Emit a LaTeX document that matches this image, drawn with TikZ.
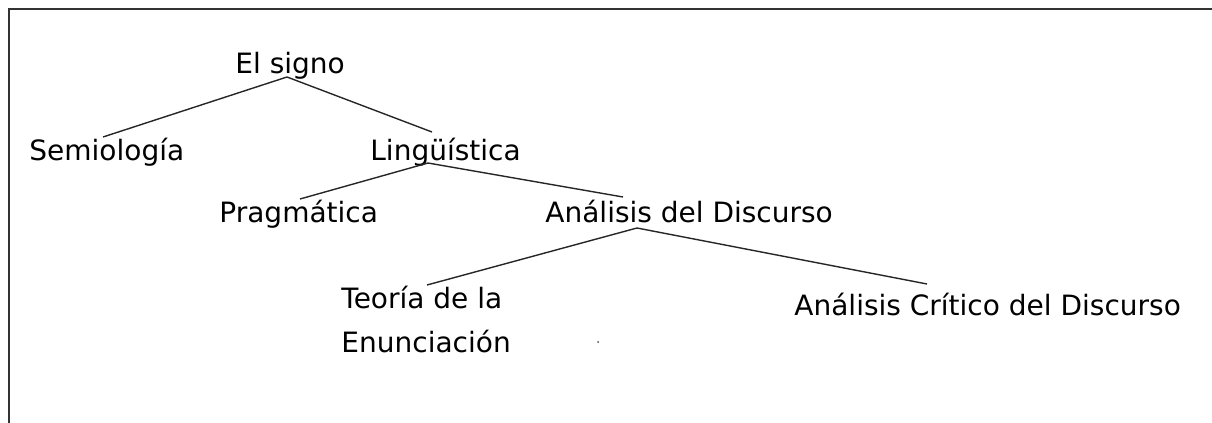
\documentclass[tikz,border=0pt]{standalone}
\usepackage{fontspec}
\setmainfont{DejaVu Sans}
\usepackage{tikz}

\begin{document}
\begin{tikzpicture}[
            x=0.5pt, y=-0.5pt,                % one unit = one pixel, y downwards
            every node/.style={inner sep=0pt, anchor=base west,
                               font=\fontsize{14}{22}\selectfont}, % style for all nodes
            rama/.style={line width=0.7pt, black!85},  % branches of the tree
            marco/.style={line width=1pt, black!80}    % frame round the page
          ]
          \useasboundingbox (0,0) rectangle (1212,423);
          \draw[marco] (9,423) -- (9,9) -- (1212,9);

          \node (signo) at (235,74) {El signo};
          \node (semio) at (29,160) {Semiología};
          \node (lingu) at (370,160) {Lingüística};
          \node (prag) at (219,222) {Pragmática};
          \node (adisc) at (545,222) {Análisis del Discurso};
          \node (teoria) [align=left, anchor=north west] at (341,286) {Teoría de la\\Enunciación};
          \node (acd) at (794,315) {Análisis Crítico del Discurso};

          \draw[rama] ([shift={(74,-23)}]semio.base west) -- ([shift={(52,3)}]signo.base west)
                      -- ([shift={(62,-28)}]lingu.base west);
          \draw[rama] ([shift={(81,-23)}]prag.base west) -- ([shift={(58,3)}]lingu.base west)
                      -- ([shift={(78,-25)}]adisc.base west);
          \draw[rama] ([shift={(86,-1)}]teoria.north west) -- ([shift={(92,6)}]adisc.base west)
                      -- ([shift={(133,-31)}]acd.base west);

          \fill[black!70] (598,342) circle (1);
        \end{tikzpicture}
\end{document}
